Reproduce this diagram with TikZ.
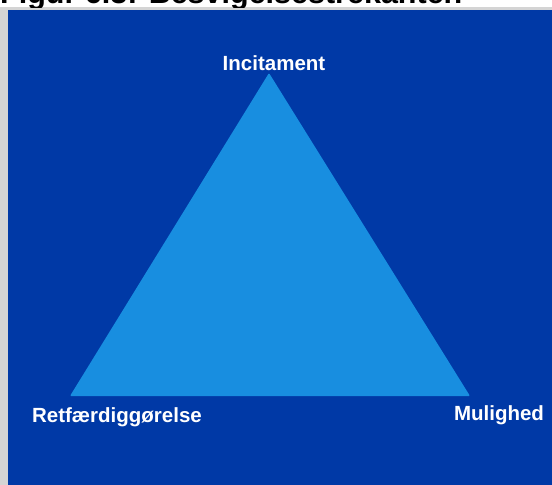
\documentclass[tikz,border=0pt]{standalone}
\usepackage{fontspec}
\setmainfont{Liberation Sans}
\definecolor{panelblue}{HTML}{0039A6}
\definecolor{triblue}{HTML}{188EE0}
\definecolor{framegray}{HTML}{D4D4D4}
\begin{document}
\begin{tikzpicture}[x=1pt,y=-1pt,
  lbl/.style={text=white,font=\bfseries\fontsize{20.5}{23}\selectfont,inner sep=0pt}]
\useasboundingbox (0,0) rectangle (552,485);
% page background and frame
\fill[white] (0,0) rectangle (552,485);
\fill[framegray] (0,7) rectangle (552,485);
\fill[panelblue] (8,10) rectangle (552,485);
% caption, cut off at the top edge
\begin{scope}
\clip (0,0) rectangle (552,7);
\node[anchor=base west,inner sep=0pt,font=\bfseries\fontsize{30.5}{33}\selectfont] (cap) at (0,3) {Figur 6.3: Besvigelsestrekanten};
\end{scope}
% triangle
\coordinate (top) at (269,73);
\coordinate (bl) at (70,396);
\coordinate (br) at (470,396);
\fill[triblue,rounded corners=1pt] (top) -- (br) -- (bl) -- cycle;
% corner labels
\node[lbl] (inc) at (274,63) {Incitament};
\node[lbl] (ret) at (117,417) {Retfærdiggørelse};
\node[lbl] (mul) at (499,415) {Mulighed};
\end{tikzpicture}
\end{document}
